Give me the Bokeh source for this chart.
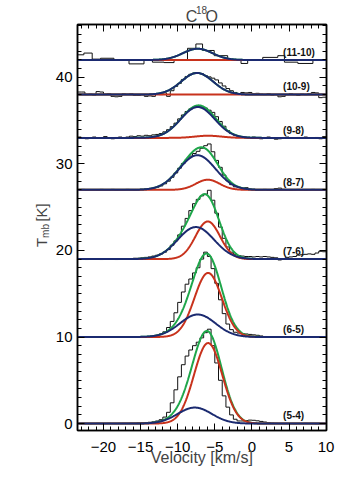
import numpy as np
from bokeh.plotting import figure
from bokeh.models import Label, LinearAxis, FixedTicker, Range1d
from bokeh.embed import file_html
from bokeh.resources import INLINE

# ---------------- data ----------------
transitions = ["(5-4)", "(6-5)", "(7-6)", "(8-7)", "(9-8)", "(10-9)", "(11-10)"]
offsets = [0, 10, 19, 27, 33, 38, 42]

# Gaussian fit components (amplitude [K], centre [km/s], sigma [km/s])
blue_amp = [1.85, 2.6, 3.7, 4.0, 3.57, 2.5, 1.3]
blue_cen = [-7.7, -7.3, -7.55, -7.35, -7.3, -7.38, -7.3]
blue_sig = [2.3, 2.4, 2.45, 2.45, 2.3, 2.15, 2.0]
red_amp = [9.3, 7.4, 4.35, 1.17, 0.25, 0.0, 0.0]
red_cen = [-5.9, -5.9, -5.95, -5.95, -5.9, -5.9, -5.9]
red_sig = [1.9, 1.85, 1.65, 1.6, 1.8, 1.8, 1.8]

# observed spectra, 0.5 km/s channels starting at -23.5 km/s
chan_start = -23.5
chan_width = 0.5
spec_54 = [0.0, 0.02, 0.0, -0.02, 0.0, 0.02, 0.0, 0.0, 0.02, 0.0, 0.0, 0.02, 0.03, 0.03,
           0.05, 0.05, 0.08, 0.1, 0.12, 0.15, 0.2, 0.3, 0.45, 0.75, 1.3, 2.4, 3.9, 5.4, 6.8,
           7.8, 8.5, 9.0, 9.4, 9.9, 10.5, 10.9, 9.0, 7.0, 5.0, 3.2, 1.9, 1.0, 0.5, 0.3, 0.3,
           0.35, 0.4, 0.38, 0.32, 0.25, 0.18, 0.1, 0.05,
           0.02, 0.0, 0.0, 0.02, 0.0, -0.02, 0.0, 0.0, 0.02, 0.0, 0.0, -0.02, 0.0, 0.0]
spec_65 = [0.02, 0.0, -0.02, 0.0, 0.02, 0.0, 0.0, -0.02, 0.0, 0.02, 0.0, 0.0, 0.02, 0.0,
           0.02, 0.03, 0.03, 0.03,
           0.05, 0.07, 0.12, 0.2, 0.35, 0.6, 1.1, 1.8, 2.8, 4.0, 5.2, 6.1, 6.7, 7.4, 8.0, 9.0,
           9.8, 9.3, 7.9, 6.2, 4.3, 2.7, 1.5, 0.85, 0.55, 0.45, 0.4, 0.35, 0.3, 0.25, 0.2,
           0.12, 0.06,
           0.02, 0.0, 0.0, 0.02, 0.0, -0.02, 0.0, 0.0, 0.02, 0.0, 0.0, 0.02, 0.0, 0.0, -0.02, 0.0]
spec_76 = [0.05, 0.0, -0.05, 0.0, 0.05, 0.0, -0.05, 0.0, 0.05, 0.0, -0.05, 0.0, 0.05, 0.0,
           0.05, 0.1, 0.1, 0.15, 0.2, 0.25, 0.35, 0.45, 0.6, 0.8, 1.1, 1.6, 2.1, 2.8, 3.8,
           4.7, 5.6, 6.4, 6.9, 7.3, 7.5, 7.95, 6.8, 5.3, 3.7, 2.4, 1.4, 0.8, 0.55, 0.4, 0.35,
           0.3, 0.3, 0.25, 0.3, 0.25, 0.3, 0.25, 0.2, 0.15, -0.1, 0.0, 0.2, 0.25, 0.3, 0.45,
           0.5, 0.55, 0.6, 0.55, 0.7, 0.9, 0.85]
spec_87 = [0.0, 0.05, -0.05, 0.0, 0.0, -0.05, 0.05, 0.0, 0.0, 0.05, -0.05, 0.0, 0.0, 0.05,
           0.0, -0.05,
           0.0, 0.05, 0.1, 0.15, 0.2, 0.3, 0.45, 0.7, 1.0, 1.45, 1.95, 2.5, 3.05, 3.5, 3.9,
           4.2, 4.45, 4.8, 5.1, 5.3, 4.4, 3.4, 2.6, 1.7, 1.05, 0.6, 0.35, 0.3, 0.2, 0.25, 0.1,
           0.0, -0.05,
           0.0, 0.05, -0.05, 0.0, 0.15, 0.2, 0.05, 0.0, -0.05, 0.0, 0.05, 0.0, -0.05, 0.0,
           0.05, 0.0, 0.0, 0.05]
spec_98 = [0.1, 0.05, -0.1, 0.0, 0.1, -0.05, 0.0, 0.15, 0.0, -0.1, 0.05, 0.1, 0.0, 0.1,
           0.2, 0.15, 0.25, 0.2, 0.3, 0.25, 0.35, 0.4, 0.5, 0.7, 0.95, 1.3, 1.7, 2.2, 2.65,
           3.05, 3.35, 3.5, 3.65, 3.55, 3.45, 3.2, 2.95, 2.45, 1.9, 1.35, 0.85, 0.5, 0.3, 0.1,
           0.15, 0.0, -0.05, 0.1, 0.0, -0.1, 0.05, 0.1, 0.0, -0.15, -0.1, 0.05, 0.1, 0.0,
           -0.05, 0.05, 0.0, 0.1, -0.05, 0.0, 0.05, -0.1, 0.15]
spec_109 = [0.3, 0.3, 0.0, 0.05, -0.05, 0.35, 0.3, 0.05, 0.1, -0.2, -0.25, -0.2, 0.1, 0.05,
            0.1, -0.1, -0.1, 0.0, -0.2, -0.15, -0.2, 0.05, 0.0, 0.2,
            -0.2, 0.45, 0.95, 1.3, 1.75, 2.1, 2.35, 2.5, 2.5, 2.4, 2.2, 2.05, 1.9, 1.7, 1.35,
            1.0, 0.7, 0.45, 0.25,
            0.1, 0.25, 0.2, 0.25, 0.1, 0.15, 0.05, 0.0, 0.1, -0.05, 0.0, -0.25, -0.2, 0.0,
            0.1, 0.0, -0.1, 0.05, 0.0, 0.1, 0.25, 0.2, -0.35, -0.3]
# (11-10) has coarser, irregular channels
edges_1110 = [-23.5, -22.64, -21.52, -20.39, -18.59, -16.56, -14.54, -13.41, -11.84,
              -10.49, -8.68, -7.55, -6.65, -5.08, -3.27, -1.47, -0.57, 1.46, 3.49, 4.38,
              6.19, 8.22, 10.0]
spec_1110 = [0.6, 0.8, 0.1, 0.2, 0.0, -0.45, 0.0, -0.25, -0.3, 0.05, 1.35, 1.85, 1.1, 0.5,
             0.0, -0.4, 0.0, 0.3, 0.5, -0.25, -0.4, 0.0]

spectra = [spec_54, spec_65, spec_76, spec_87, spec_98, spec_109]

x_ticks = [-20, -15, -10, -5, 0, 5, 10]
y_ticks = [0, 10, 20, 30, 40]

# ---------------- style ----------------
BLUE = "#1b2a70"
RED = "#c8321c"
GREEN = "#1ea64a"
FONT = "Liberation Sans"

p = figure(width=346, height=480, x_range=Range1d(-23.5, 10.05), y_range=Range1d(-0.8, 46.1),
           output_backend="svg", toolbar_location=None,
           min_border_left=77, min_border_right=20, min_border_top=24, min_border_bottom=50)
p.xgrid.visible = False
p.ygrid.visible = False
p.outline_line_color = "black"
p.outline_line_width = 1.5
p.background_fill_color = "white"

vgrid = np.linspace(-23.5, 10.05, 600)


def gauss(a, c, s):
    return a * np.exp(-(vgrid - c) ** 2 / (2.0 * s * s))


# observed histograms
for k, vals in enumerate(spectra):
    edges = chan_start + chan_width * np.arange(len(vals) + 1)
    yy = np.append(np.array(vals), vals[-1]) + offsets[k]
    p.step(edges, yy, mode="after", line_color="#111111", line_width=1)
yy = np.append(np.array(spec_1110), spec_1110[-1]) + offsets[6]
p.step(edges_1110, yy, mode="after", line_color="#111111", line_width=1)

# fits
for k in range(len(transitions)):
    gb = gauss(blue_amp[k], blue_cen[k], blue_sig[k])
    gr = gauss(red_amp[k], red_cen[k], red_sig[k])
    off = offsets[k]
    p.line(vgrid, gb + gr + off, line_color=GREEN, line_width=2)
    p.line(vgrid, gr + off, line_color=RED, line_width=2)
    p.line(vgrid, gb + off, line_color=BLUE, line_width=2)
    p.add_layout(Label(x=4.2, y=off + 0.9, text=transitions[k], text_align="left",
                       text_baseline="middle", text_font_size="10px", text_font=FONT,
                       text_font_style="bold", text_color="#111111"))


# axes
def style_axis(ax, ticks, minor, overrides=None):
    ax.ticker = FixedTicker(ticks=ticks, minor_ticks=minor)
    ax.axis_line_color = "black"
    ax.axis_line_width = 1.5
    ax.major_tick_in = 7
    ax.major_tick_out = 0
    ax.minor_tick_in = 4
    ax.minor_tick_out = 0
    ax.major_tick_line_color = "black"
    ax.minor_tick_line_color = "black"
    ax.major_label_text_font = FONT
    ax.major_label_text_font_size = "15px"
    ax.major_label_text_color = "black"
    if overrides is not None:
        ax.major_label_overrides = overrides


x_minor = list(range(-23, 11))
y_minor = list(range(0, 47))
x_over = {t: (("\u2212" + str(-t)) if t < 0 else str(t)) for t in x_ticks}
style_axis(p.xaxis[0], x_ticks, x_minor, overrides=x_over)
style_axis(p.yaxis[0], y_ticks, y_minor)
p.xaxis[0].major_label_standoff = 11
p.yaxis[0].major_label_standoff = 5

top = LinearAxis()
style_axis(top, x_ticks, x_minor, overrides={t: "" for t in x_ticks})
top.major_label_standoff = 0
right = LinearAxis()
style_axis(right, y_ticks, y_minor, overrides={t: "" for t in y_ticks})
right.major_label_standoff = 0
p.add_layout(top, "above")
p.add_layout(right, "right")

# title C^18 O (texts live in side panels so they are not clipped by the frame)
p.add_layout(Label(x=-8.9, y=47.0, text="C\u2002O", text_font=FONT, text_font_size="16px",
                   text_baseline="alphabetic", text_align="left"), "above")
p.add_layout(Label(x=-7.55, y=47.75, text="18", text_font=FONT, text_font_size="10px",
                   text_baseline="alphabetic", text_align="left"), "right")

# y label T_mb [K]
p.add_layout(Label(x=-28.36, y=20.92, text="T", text_font=FONT, text_font_size="15px",
                   angle=np.pi / 2, text_align="center", text_baseline="middle"), "left")
p.add_layout(Label(x=-27.76, y=22.25, text="mb", text_font=FONT, text_font_size="10px",
                   angle=np.pi / 2, text_align="center", text_baseline="middle"), "left")
p.add_layout(Label(x=-28.36, y=24.39, text="[K]", text_font=FONT, text_font_size="15px",
                   angle=np.pi / 2, text_align="center", text_baseline="middle"), "left")

# x label
p.add_layout(Label(x=-6.75, y=-3.95, text="Velocity [km/s]", text_font=FONT,
                   text_font_size="16px", text_align="center", text_baseline="middle"),
             "below")

open("out.html", "w").write(file_html(p, INLINE))
